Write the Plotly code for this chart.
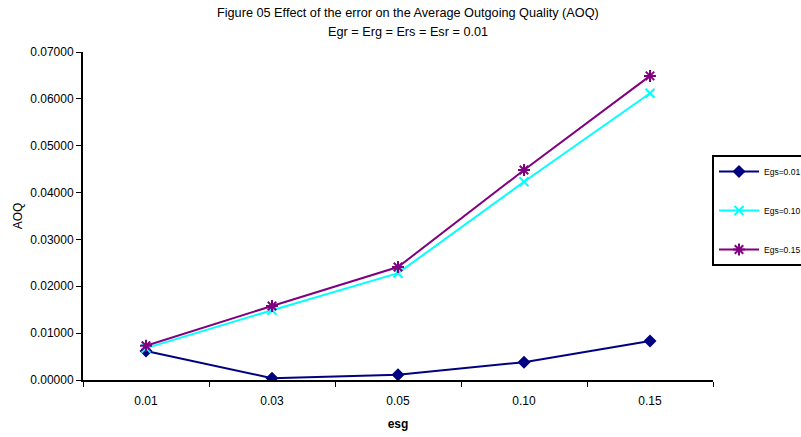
import plotly.graph_objects as go

categories = ["0.01", "0.03", "0.05", "0.10", "0.15"]
egs_001 = [0.0062, 0.0004, 0.0011, 0.0038, 0.0083]
egs_010 = [0.0068, 0.0149, 0.0228, 0.0423, 0.0612]
egs_015 = [0.0073, 0.0158, 0.0241, 0.0448, 0.0649]
y_ticks = [0.0, 0.01, 0.02, 0.03, 0.04, 0.05, 0.06, 0.07]
title_lines = ["Figure 05 Effect of the error on the Average Outgoing Quality (AOQ)",
               "Egr = Erg = Ers = Esr = 0.01"]

FONT = "Arial, Liberation Sans, sans-serif"
W, H = 801, 437
L, R, T, B = 83, 88, 52, 57

fig = go.Figure()
fig.add_trace(go.Scatter(
    x=categories, y=egs_001, name="Egs=0.01", mode="lines+markers",
    line=dict(color="#000080", width=2),
    marker=dict(symbol="diamond", size=10, color="#000080"),
    legendgroup="a"))
fig.add_trace(go.Scatter(
    x=categories, y=egs_010, name="Egs=0.10", mode="lines+markers",
    line=dict(color="#00FFFF", width=2),
    marker=dict(symbol="x-thin", size=9, color="#00FFFF",
                line=dict(color="#00FFFF", width=2)),
    legendgroup="b"))
fig.add_trace(go.Scatter(
    x=categories, y=egs_015, name="Egs=0.15", mode="lines+markers",
    line=dict(color="#800080", width=2),
    marker=dict(symbol="asterisk", size=10, color="#800080",
                line=dict(color="#800080", width=2)),
    legendgroup="c"))

for i, (txt, ypix) in enumerate(zip(title_lines, [13, 32])):
    fig.add_annotation(
        text=txt, xref="paper", yref="paper",
        x=(408 - L) / (W - L - R), y=(H - B - ypix) / (H - T - B),
        xanchor="center", yanchor="middle", showarrow=False,
        font=dict(family=FONT, size=12.7, color="black"))

fig.update_layout(
    width=W, height=H,
    margin=dict(l=L, r=R, t=T, b=B, autoexpand=False),
    paper_bgcolor="white", plot_bgcolor="white",
    font=dict(family=FONT, size=12, color="black"),
    legend=dict(
        x=(712 - L) / (W - L - R), xanchor="left",
        y=(H - B - 155) / (H - T - B), yanchor="top",
        bordercolor="black", borderwidth=2, bgcolor="white",
        font=dict(family=FONT, size=8.5, color="black"),
        traceorder="grouped", tracegroupgap=20,
        itemwidth=40),
    showlegend=True,
)
fig.update_xaxes(
    type="category", range=[-0.5, 4.5], automargin=False,
    showline=True, linecolor="black", linewidth=2,
    ticks="outside", tickson="boundaries", ticklen=5, tickcolor="black",
    ticklabelstandoff=9,
    showgrid=False, zeroline=False,
    tickfont=dict(family=FONT, size=12),
    title=dict(text="<b>esg</b>", font=dict(family=FONT, size=12), standoff=12),
)
fig.update_yaxes(
    range=[0, 0.07], tickvals=y_ticks, tickformat=".5f", automargin=False,
    showline=True, linecolor="black", linewidth=2,
    ticks="outside", ticklen=5, tickcolor="black",
    showgrid=False, zeroline=False,
    tickfont=dict(family=FONT, size=12),
    title=dict(text="AOQ", font=dict(family=FONT, size=12), standoff=5),
)

fig.write_html("out.html", config={"displayModeBar": False},
               post_script="document.body.style.margin='0';")
